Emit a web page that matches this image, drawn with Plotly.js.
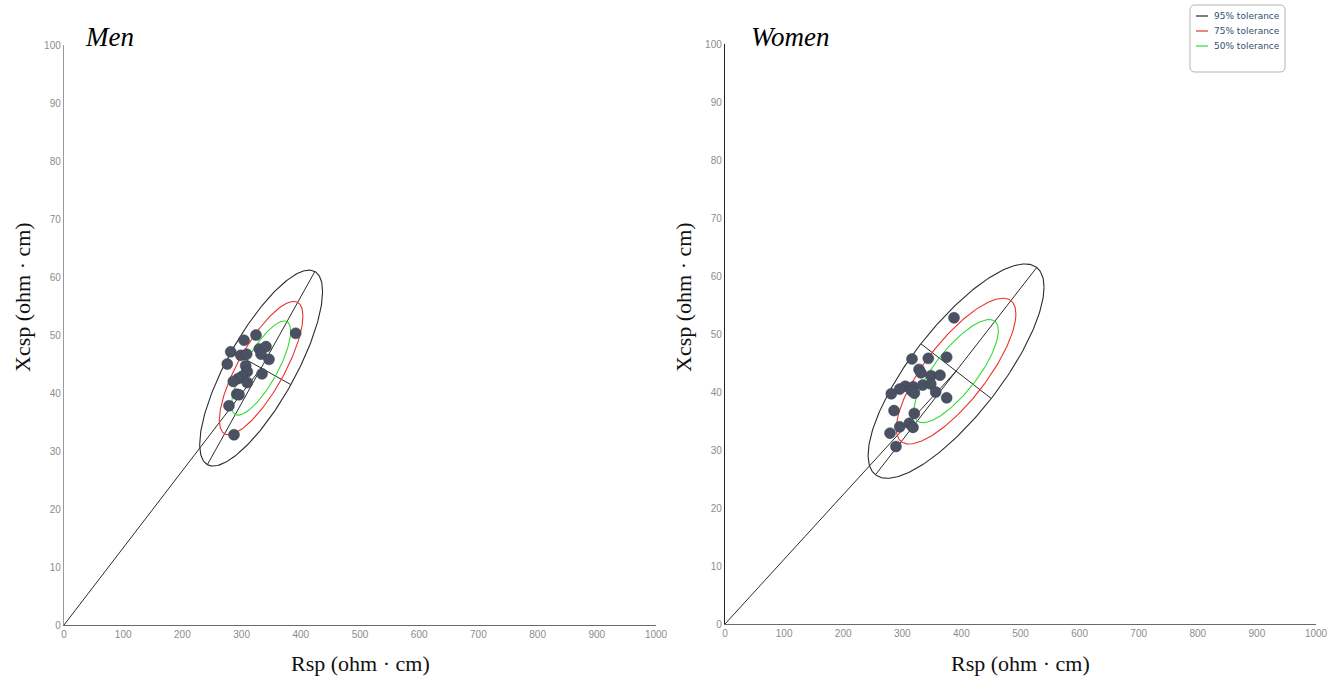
<!DOCTYPE html>
<html>
<head>
<meta charset="utf-8">
<script src="https://cdn.plot.ly/plotly-3.0.1.min.js"></script>
<style>html,body{margin:0;padding:0;background:#fff;}#chart{width:1339px;height:677px;}</style>
</head>
<body>
<div id="chart"></div>
<script>
// ---------- data ----------
const panelTitles = ['Men', 'Women'];
const xTitle = 'Rsp (ohm · cm)';
const yTitle = 'Xcsp (ohm · cm)';
const xTicks = [0, 100, 200, 300, 400, 500, 600, 700, 800, 900, 1000];
const yTicks = [0, 10, 20, 30, 40, 50, 60, 70, 80, 90, 100];

const menR  = [391.4, 324.3, 304.1, 329.9, 341.2, 332.8, 346.3, 281.6, 298.5, 308.6, 275.8,
               306.9, 309.6, 301.2, 334.5, 294.4, 286.0, 309.6, 291.7, 295.6, 278.7, 287.2];
const menXc = [50.3, 50.0, 49.1, 47.6, 48.0, 46.7, 45.8, 47.1, 46.5, 46.7, 45.0,
               44.7, 43.7, 42.9, 43.3, 42.5, 42.0, 41.8, 39.8, 39.7, 37.8, 32.8];

const womenR  = [387.5, 316.4, 344.0, 375.1, 328.3, 331.6, 348.6, 363.8, 305.1, 295.6, 318.6, 315.9, 320.3,
                 334.5, 348.1, 356.5, 281.4, 375.1, 286.0, 320.3, 295.6, 311.8, 318.1, 279.2, 289.3];
const womenXc = [52.8, 45.7, 45.8, 46.0, 43.9, 43.3, 42.8, 42.9, 41.0, 40.5, 40.9, 40.2, 39.8,
                 41.2, 41.4, 40.0, 39.7, 39.0, 36.8, 36.3, 34.0, 34.6, 33.9, 32.9, 30.6];

// reference population (tolerance ellipses): mean, SD, correlation
const menMean   = [333, 44.3];
const menSD     = [42.4, 6.9];
const menCorr   = 0.78;
const womenMean = [391, 43.6];
const womenSD   = [60.8, 7.55];
const womenCorr = 0.784;

const tolerancePct    = [95, 75, 50];
const toleranceLabels = ['95% tolerance', '75% tolerance', '50% tolerance'];

// ---------- styles / layout geometry ----------
const W = 1339, H = 677;
const tolColors = ['#2b2b2b', '#e8322c', '#35d935'];
const pointColor = '#4a5162';
const panelsPx = [
  {x0: 64, x1: 656, y0: 45, y1: 625, axLeft: '#9a9a9a'},
  {x0: 725, x1: 1316, y0: 44, y1: 624, axLeft: '#222222'}
];

function ellipse(m, sd, r, k) {
  const xs = [], ys = [];
  const q = Math.sqrt(1 - r * r);
  for (let i = 0; i <= 240; i++) {
    const t = 2 * Math.PI * i / 240;
    xs.push(m[0] + k * sd[0] * Math.cos(t));
    ys.push(m[1] + k * sd[1] * (r * Math.cos(t) + q * Math.sin(t)));
  }
  return {xs, ys};
}

// principal axes of the ellipse as seen on screen (pixel space)
function axes(m, sd, r, k, p) {
  const sx = (p.x1 - p.x0) / 1000, sy = (p.y1 - p.y0) / 100;
  const a = k * sd[0] * sx, b = k * sd[1] * sy;
  const pxx = a * a, pyy = b * b, pxy = r * a * b;
  const th = 0.5 * Math.atan2(2 * pxy, pxx - pyy);
  const mid = (pxx + pyy) / 2, d = Math.sqrt(((pxx - pyy) / 2) ** 2 + pxy * pxy);
  const l1 = Math.sqrt(mid + d), l2 = Math.sqrt(Math.max(mid - d, 0));
  const major = {x: [m[0] - l1 * Math.cos(th) / sx, m[0] + l1 * Math.cos(th) / sx],
                 y: [m[1] - l1 * Math.sin(th) / sy, m[1] + l1 * Math.sin(th) / sy]};
  const th2 = th + Math.PI / 2;
  const minor = {x: [m[0] - l2 * Math.cos(th2) / sx, m[0] + l2 * Math.cos(th2) / sx],
                 y: [m[1] - l2 * Math.sin(th2) / sy, m[1] + l2 * Math.sin(th2) / sy]};
  return {major, minor};
}

const panels = [
  {R: menR, Xc: menXc, mean: menMean, sd: menSD, r: menCorr, xa: 'x', ya: 'y'},
  {R: womenR, Xc: womenXc, mean: womenMean, sd: womenSD, r: womenCorr, xa: 'x2', ya: 'y2'}
];

const traces = [];
panels.forEach((pn, idx) => {
  const kLevels = tolerancePct.map(p => Math.sqrt(-2 * Math.log(1 - p / 100)));
  // vector from origin to mean
  traces.push({x: [0, pn.mean[0]], y: [0, pn.mean[1]], xaxis: pn.xa, yaxis: pn.ya,
    mode: 'lines', line: {color: '#2b2b2b', width: 1}, hoverinfo: 'skip', showlegend: false});
  const ax = axes(pn.mean, pn.sd, pn.r, kLevels[0], panelsPx[idx]);
  traces.push({x: ax.major.x, y: ax.major.y, xaxis: pn.xa, yaxis: pn.ya,
    mode: 'lines', line: {color: '#2b2b2b', width: 1}, hoverinfo: 'skip', showlegend: false});
  traces.push({x: ax.minor.x, y: ax.minor.y, xaxis: pn.xa, yaxis: pn.ya,
    mode: 'lines', line: {color: '#2b2b2b', width: 1}, hoverinfo: 'skip', showlegend: false});
  kLevels.forEach((k, j) => {
    const e = ellipse(pn.mean, pn.sd, pn.r, k);
    traces.push({x: e.xs, y: e.ys, xaxis: pn.xa, yaxis: pn.ya, mode: 'lines',
      name: toleranceLabels[j], line: {color: tolColors[j], width: 1.1},
      hoverinfo: 'skip', showlegend: false});
  });
  traces.push({x: pn.R, y: pn.Xc, xaxis: pn.xa, yaxis: pn.ya, mode: 'markers',
    marker: {color: pointColor, size: 11, line: {color: '#3d4352', width: 0.5}},
    showlegend: false});
});

function xAxis(p, anchor) {
  return {domain: [p.x0 / W, p.x1 / W], range: [0, 1000], anchor: anchor,
    tickvals: xTicks, ticktext: xTicks.map(String), ticks: '', showgrid: false, zeroline: false,
    showline: true, linecolor: '#6a6a6a', linewidth: 1.2, fixedrange: true,
    tickfont: {family: 'Liberation Sans, Arial, sans-serif', size: 10, color: '#8c8c8c'}};
}
function yAxis(p, anchor) {
  return {domain: [(H - p.y1) / H, (H - p.y0) / H], range: [0, 100], anchor: anchor,
    tickvals: yTicks, ticktext: yTicks.map(String), ticks: '', showgrid: false, zeroline: false,
    showline: true, linecolor: p.axLeft, linewidth: 1.2, fixedrange: true,
    tickfont: {family: 'Liberation Sans, Arial, sans-serif', size: 10, color: '#8c8c8c'}};
}

const annotations = [];
const serif = 'Liberation Serif, Times New Roman, serif';
const titleX = [83, 749];
panelsPx.forEach((p, i) => {
  annotations.push({xref: 'paper', yref: 'paper', x: titleX[i] / W, y: 1 - 37 / H,
    xanchor: 'left', yanchor: 'middle', showarrow: false,
    text: '<i>' + panelTitles[i] + '</i>', font: {family: serif, size: 27, color: '#000'}});
  annotations.push({xref: 'paper', yref: 'paper', x: (p.x0 + p.x1) / 2 / W, y: 1 - 663 / H,
    xanchor: 'center', yanchor: 'middle', showarrow: false,
    text: xTitle, font: {family: serif, size: 22, color: '#111'}});
  annotations.push({xref: 'paper', yref: 'paper', x: (p.x0 - 42) / W, y: 1 - 297 / H,
    xanchor: 'center', yanchor: 'middle', showarrow: false, textangle: -90,
    text: yTitle, font: {family: serif, size: 22, color: '#111'}});
});

// legend box (manual, top right)
const shapes = [];
const lx0 = 1190 / W, lx1 = 1285 / W, ly0 = 1 - 5 / H, ly1 = 1 - 72 / H;
const rx = 5 / W, ry = 5 / H;
shapes.push({type: 'path', xref: 'paper', yref: 'paper',
  path: `M ${lx0 + rx},${ly0} L ${lx1 - rx},${ly0} Q ${lx1},${ly0} ${lx1},${ly0 - ry} L ${lx1},${ly1 + ry} Q ${lx1},${ly1} ${lx1 - rx},${ly1} L ${lx0 + rx},${ly1} Q ${lx0},${ly1} ${lx0},${ly1 + ry} L ${lx0},${ly0 - ry} Q ${lx0},${ly0} ${lx0 + rx},${ly0} Z`,
  line: {color: '#b4b4b4', width: 1}, fillcolor: '#ffffff'});
toleranceLabels.forEach((lab, j) => {
  const yy = 1 - (16 + 15 * j) / H;
  shapes.push({type: 'line', xref: 'paper', yref: 'paper', x0: 1196 / W, x1: 1208 / W, y0: yy, y1: yy,
    line: {color: tolColors[j], width: 1.2}});
  annotations.push({xref: 'paper', yref: 'paper', x: 1212 / W, y: yy, xanchor: 'left', yanchor: 'middle',
    showarrow: false, text: lab, font: {family: 'DejaVu Sans, Verdana, sans-serif', size: 9, color: '#34506e'}});
});

const layout = {
  width: W, height: H, margin: {l: 0, r: 0, t: 0, b: 0},
  paper_bgcolor: '#ffffff', plot_bgcolor: 'rgba(0,0,0,0)', showlegend: false,
  xaxis: xAxis(panelsPx[0], 'y'), yaxis: yAxis(panelsPx[0], 'x'),
  xaxis2: xAxis(panelsPx[1], 'y2'), yaxis2: yAxis(panelsPx[1], 'x2'),
  annotations: annotations, shapes: shapes
};

Plotly.newPlot('chart', traces, layout, {displayModeBar: false, staticPlot: true});
</script>
</body>
</html>
